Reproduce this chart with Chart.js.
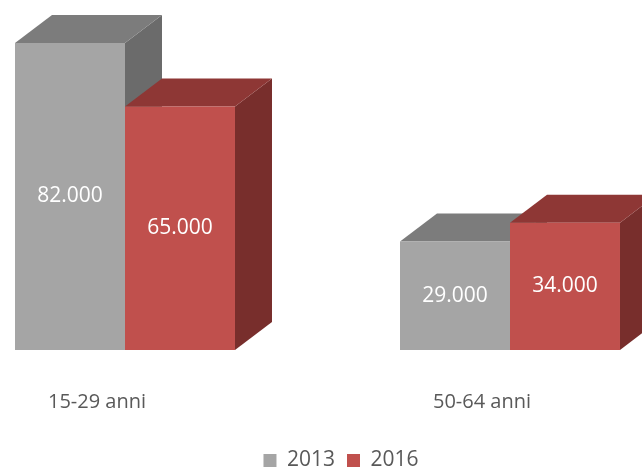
<!DOCTYPE html>
<html>
<head>
<meta charset="utf-8">
<script src="https://cdn.jsdelivr.net/npm/chart.js@4/dist/chart.umd.min.js"></script>
<style>
  html, body { margin: 0; padding: 0; background: #fff; overflow: hidden; }
</style>
</head>
<body>
<canvas id="occupatiChart" width="642" height="468"></canvas>
<script>
const categories = ['15-29 anni', '50-64 anni'];
const years = ['2013', '2016'];
const values2013 = [82000, 29000];
const values2016 = [65000, 34000];

// profondità finta 3D
const depthX = 37, depthY = -28;

function formatIt(v) {
    return String(v).replace(/\B(?=(\d{3})+(?!\d))/g, '.');
}

function poly(ctx, pts, color) {
    ctx.beginPath();
    ctx.moveTo(pts[0][0], pts[0][1]);
    for (let k = 1; k < pts.length; k++) ctx.lineTo(pts[k][0], pts[k][1]);
    ctx.closePath();
    ctx.fillStyle = color;
    ctx.fill();
}

// facce superiore e laterale, disegnate prima delle facce frontali
const faces3d = {
    id: 'faces3d',
    beforeDatasetsDraw(chart) {
        const ctx = chart.ctx;
        const metas = chart.getSortedVisibleDatasetMetas();
        ctx.save();
        categories.forEach((c, i) => {
            metas.forEach(meta => {
                const ds = chart.data.datasets[meta.index];
                const p = meta.data[i].getProps(['x', 'y', 'base', 'width'], true);
                const l = p.x - p.width / 2, r = p.x + p.width / 2;
                poly(ctx, [[r, p.y], [r + depthX, p.y + depthY], [r + depthX, p.base + depthY], [r, p.base]], ds.sideColor);
                poly(ctx, [[l, p.y], [r, p.y], [r + depthX, p.y + depthY], [l + depthX, p.y + depthY]], ds.topColor);
            });
        });
        ctx.restore();
    }
};

const valueLabels = {
    id: 'valueLabels',
    afterDatasetsDraw(chart) {
        const ctx = chart.ctx;
        ctx.save();
        ctx.font = '21px "Open Sans"';
        ctx.fillStyle = '#ffffff';
        ctx.textAlign = 'center';
        ctx.textBaseline = 'middle';
        chart.getSortedVisibleDatasetMetas().forEach(meta => {
            const ds = chart.data.datasets[meta.index];
            meta.data.forEach((bar, i) => {
                const p = bar.getProps(['x', 'y', 'base'], true);
                ctx.fillText(formatIt(ds.data[i]), p.x, (p.y + p.base) / 2);
            });
        });
        ctx.restore();
    }
};

const ctx = document.getElementById('occupatiChart').getContext('2d');
const occupatiChart = new Chart(ctx, {
    type: 'bar',
    data: {
        labels: categories,
        datasets: [{
            label: years[0],
            data: values2013,
            backgroundColor: '#a5a5a5',
            topColor: '#7c7c7c',
            sideColor: '#6b6b6b',
            clip: false
        }, {
            label: years[1],
            data: values2016,
            backgroundColor: '#c0504d',
            topColor: '#8e3735',
            sideColor: '#782e2c',
            clip: false
        }]
    },
    options: {
        responsive: false,
        devicePixelRatio: 1,
        animation: false,
        layout: { padding: { top: 13, bottom: -13, left: 40, right: 0 } },
        datasets: { bar: { categoryPercentage: 0.5714, barPercentage: 1 } },
        plugins: {
            tooltip: { enabled: false },
            legend: {
                position: 'bottom',
                labels: {
                    boxWidth: 13,
                    boxHeight: 13,
                    padding: 12,
                    color: '#595959',
                    font: { family: '"Open Sans"', size: 21 }
                }
            }
        },
        scales: {
            x: {
                offset: false,
                grid: { display: false, drawTicks: false },
                border: { display: false },
                ticks: {
                    color: '#595959',
                    font: { family: '"Open Sans"', size: 20 },
                    padding: 40,
                    labelOffset: -28,
                    maxRotation: 0
                },
                afterFit(s) { s.height = 88; }
            },
            y: {
                min: 0,
                max: 90000,
                grid: { display: false, drawTicks: false },
                border: { display: false },
                ticks: { display: false },
                afterFit(s) { s.width = 85; }
            },
            y2: {
                position: 'right',
                grid: { display: false, drawTicks: false },
                border: { display: false },
                ticks: { display: false },
                afterFit(s) { s.width = 132; }
            }
        }
    },
    plugins: [faces3d, valueLabels]
});
</script>
</body>
</html>
